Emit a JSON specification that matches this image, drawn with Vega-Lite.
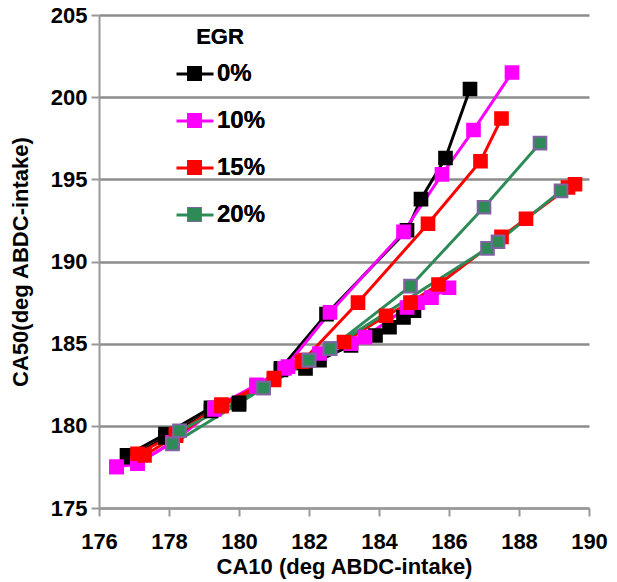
{
  "$schema": "https://vega.github.io/schema/vega-lite/v6.json",
  "width": 490,
  "height": 493,
  "autosize": "none",
  "padding": {"left": 99, "top": 15, "right": 28, "bottom": 74},
  "background": "white",
  "config": {"view": {"stroke": null}, "font": "Liberation Sans"},
  "data": {"values": [
    {"egr": "0%", "branch": "0A", "o": 1, "x": 176.8, "y": 178.2},
    {"egr": "0%", "branch": "0A", "o": 2, "x": 177.9, "y": 179.5},
    {"egr": "0%", "branch": "0A", "o": 3, "x": 179.2, "y": 181.1},
    {"egr": "0%", "branch": "0A", "o": 4, "x": 180.0, "y": 181.3},
    {"egr": "0%", "branch": "0A", "o": 5, "x": 181.2, "y": 183.5},
    {"egr": "0%", "branch": "0A", "o": 6, "x": 182.5, "y": 186.8},
    {"egr": "0%", "branch": "0A", "o": 7, "x": 184.8, "y": 191.9},
    {"egr": "0%", "branch": "0A", "o": 8, "x": 185.2, "y": 193.8},
    {"egr": "0%", "branch": "0A", "o": 9, "x": 185.9, "y": 196.3},
    {"egr": "0%", "branch": "0A", "o": 10, "x": 186.6, "y": 200.5},
    {"egr": "0%", "branch": "0B", "o": 1, "x": 176.9, "y": 178.1},
    {"egr": "0%", "branch": "0B", "o": 2, "x": 177.9, "y": 179.3},
    {"egr": "0%", "branch": "0B", "o": 3, "x": 179.2, "y": 180.9},
    {"egr": "0%", "branch": "0B", "o": 4, "x": 180.0, "y": 181.4},
    {"egr": "0%", "branch": "0B", "o": 5, "x": 181.2, "y": 183.4},
    {"egr": "0%", "branch": "0B", "o": 6, "x": 181.9, "y": 183.5},
    {"egr": "0%", "branch": "0B", "o": 7, "x": 182.3, "y": 184.0},
    {"egr": "0%", "branch": "0B", "o": 8, "x": 183.2, "y": 184.9},
    {"egr": "0%", "branch": "0B", "o": 9, "x": 183.9, "y": 185.5},
    {"egr": "0%", "branch": "0B", "o": 10, "x": 184.3, "y": 186.0},
    {"egr": "0%", "branch": "0B", "o": 11, "x": 184.7, "y": 186.6},
    {"egr": "0%", "branch": "0B", "o": 12, "x": 185.0, "y": 187.0},
    {"egr": "10%", "branch": "10A", "o": 1, "x": 176.5, "y": 177.5},
    {"egr": "10%", "branch": "10A", "o": 2, "x": 177.1, "y": 177.7},
    {"egr": "10%", "branch": "10A", "o": 3, "x": 178.1, "y": 179.0},
    {"egr": "10%", "branch": "10A", "o": 4, "x": 179.3, "y": 181.1},
    {"egr": "10%", "branch": "10A", "o": 5, "x": 180.5, "y": 182.5},
    {"egr": "10%", "branch": "10A", "o": 6, "x": 181.3, "y": 183.5},
    {"egr": "10%", "branch": "10A", "o": 7, "x": 182.6, "y": 186.9},
    {"egr": "10%", "branch": "10A", "o": 8, "x": 184.7, "y": 191.8},
    {"egr": "10%", "branch": "10A", "o": 9, "x": 185.8, "y": 195.3},
    {"egr": "10%", "branch": "10A", "o": 10, "x": 186.7, "y": 198.0},
    {"egr": "10%", "branch": "10A", "o": 11, "x": 187.8, "y": 201.5},
    {"egr": "10%", "branch": "10B", "o": 1, "x": 176.5, "y": 177.5},
    {"egr": "10%", "branch": "10B", "o": 2, "x": 177.1, "y": 177.7},
    {"egr": "10%", "branch": "10B", "o": 3, "x": 178.1, "y": 179.0},
    {"egr": "10%", "branch": "10B", "o": 4, "x": 179.3, "y": 181.0},
    {"egr": "10%", "branch": "10B", "o": 5, "x": 180.5, "y": 182.4},
    {"egr": "10%", "branch": "10B", "o": 6, "x": 181.4, "y": 183.6},
    {"egr": "10%", "branch": "10B", "o": 7, "x": 182.3, "y": 184.4},
    {"egr": "10%", "branch": "10B", "o": 8, "x": 183.2, "y": 185.0},
    {"egr": "10%", "branch": "10B", "o": 9, "x": 183.6, "y": 185.4},
    {"egr": "10%", "branch": "10B", "o": 10, "x": 184.8, "y": 187.2},
    {"egr": "10%", "branch": "10B", "o": 11, "x": 185.1, "y": 187.5},
    {"egr": "10%", "branch": "10B", "o": 12, "x": 185.5, "y": 187.8},
    {"egr": "10%", "branch": "10B", "o": 13, "x": 186.0, "y": 188.4},
    {"egr": "15%", "branch": "15A", "o": 1, "x": 177.1, "y": 178.3},
    {"egr": "15%", "branch": "15A", "o": 2, "x": 178.2, "y": 179.5},
    {"egr": "15%", "branch": "15A", "o": 3, "x": 179.5, "y": 181.3},
    {"egr": "15%", "branch": "15A", "o": 4, "x": 181.0, "y": 182.9},
    {"egr": "15%", "branch": "15A", "o": 5, "x": 181.8, "y": 183.9},
    {"egr": "15%", "branch": "15A", "o": 6, "x": 183.4, "y": 187.5},
    {"egr": "15%", "branch": "15A", "o": 7, "x": 185.4, "y": 192.3},
    {"egr": "15%", "branch": "15A", "o": 8, "x": 186.9, "y": 196.1},
    {"egr": "15%", "branch": "15A", "o": 9, "x": 187.5, "y": 198.7},
    {"egr": "15%", "branch": "15B", "o": 1, "x": 177.3, "y": 178.2},
    {"egr": "15%", "branch": "15B", "o": 2, "x": 178.2, "y": 179.4},
    {"egr": "15%", "branch": "15B", "o": 3, "x": 179.5, "y": 181.2},
    {"egr": "15%", "branch": "15B", "o": 4, "x": 181.0, "y": 182.8},
    {"egr": "15%", "branch": "15B", "o": 5, "x": 181.9, "y": 184.0},
    {"egr": "15%", "branch": "15B", "o": 6, "x": 183.0, "y": 185.1},
    {"egr": "15%", "branch": "15B", "o": 7, "x": 184.2, "y": 186.7},
    {"egr": "15%", "branch": "15B", "o": 8, "x": 184.9, "y": 187.5},
    {"egr": "15%", "branch": "15B", "o": 9, "x": 185.7, "y": 188.6},
    {"egr": "15%", "branch": "15B", "o": 10, "x": 187.5, "y": 191.5},
    {"egr": "15%", "branch": "15B", "o": 11, "x": 188.2, "y": 192.6},
    {"egr": "15%", "branch": "15B", "o": 12, "x": 189.4, "y": 194.5},
    {"egr": "15%", "branch": "15B", "o": 13, "x": 189.6, "y": 194.7},
    {"egr": "20%", "branch": "20A", "o": 1, "x": 178.3, "y": 179.7},
    {"egr": "20%", "branch": "20A", "o": 2, "x": 180.7, "y": 182.3},
    {"egr": "20%", "branch": "20A", "o": 3, "x": 182.0, "y": 184.0},
    {"egr": "20%", "branch": "20A", "o": 4, "x": 182.6, "y": 184.7},
    {"egr": "20%", "branch": "20A", "o": 5, "x": 184.9, "y": 188.5},
    {"egr": "20%", "branch": "20A", "o": 6, "x": 187.0, "y": 193.3},
    {"egr": "20%", "branch": "20A", "o": 7, "x": 188.6, "y": 197.2},
    {"egr": "20%", "branch": "20B", "o": 1, "x": 178.1, "y": 178.9},
    {"egr": "20%", "branch": "20B", "o": 2, "x": 180.7, "y": 182.3},
    {"egr": "20%", "branch": "20B", "o": 3, "x": 182.0, "y": 184.0},
    {"egr": "20%", "branch": "20B", "o": 4, "x": 182.6, "y": 184.7},
    {"egr": "20%", "branch": "20B", "o": 5, "x": 187.1, "y": 190.8},
    {"egr": "20%", "branch": "20B", "o": 6, "x": 187.4, "y": 191.2},
    {"egr": "20%", "branch": "20B", "o": 7, "x": 189.2, "y": 194.3}
  ]},
  "encoding": {
    "x": {"field": "x", "type": "quantitative",
      "scale": {"domain": [176, 190], "nice": false, "zero": false},
      "axis": {"title": "CA10 (deg ABDC-intake)", "values": [176,178,180,182,184,186,188,190],
        "grid": false, "domainColor": "#999999", "domainWidth": 2, "tickColor": "#999999", "tickWidth": 2, "tickSize": 8,
        "labelFontSize": 22, "labelFontWeight": "bold", "labelColor": "#000000", "labelPadding": 15, "labelFlush": false,
        "titleFontSize": 22, "titleFontWeight": "bold", "titleColor": "#000000", "titlePadding": 4}},
    "y": {"field": "y", "type": "quantitative",
      "scale": {"domain": [175, 205], "nice": false, "zero": false},
      "axis": {"title": "CA50(deg ABDC-intake)", "values": [175,180,185,190,195,200,205],
        "grid": true, "gridColor": "#8c8c8c", "gridWidth": 2.5,
        "domainColor": "#999999", "domainWidth": 2, "tickColor": "#999999", "tickWidth": 2, "tickSize": 8,
        "labelFontSize": 22, "labelFontWeight": "bold", "labelColor": "#000000", "labelPadding": 4, "labelFlush": false,
        "titleFontSize": 22, "titleFontWeight": "bold", "titleColor": "#000000", "titlePadding": 18}}
  },
  "layer": [
    {
      "mark": {"type": "line", "strokeWidth": 3},
      "encoding": {
        "color": {"field": "egr", "type": "nominal",
          "scale": {"domain": ["0%", "10%", "15%", "20%"], "range": ["#000000", "#ff00ff", "#ff0000", "#2e8b57"]},
          "legend": {"orient": "none", "legendX": 76, "legendY": 12, "title": "EGR", "titleFontSize": 22, "titleFontWeight": "bold",
            "titleAnchor": "middle", "titleOpacity": 0, "labelOpacity": 0, "labelFontSize": 24, "labelFontWeight": "bold",
            "symbolType": "M-1,0H1", "symbolSize": 1369, "symbolStrokeWidth": 3, "rowPadding": 15, "labelOffset": 3, "titlePadding": 5}},
        "detail": {"field": "branch"},
        "order": {"field": "o", "type": "quantitative"}
      }
    },
    {
      "mark": {"type": "point", "shape": "square", "filled": true, "size": 160, "strokeWidth": 2, "opacity": 1},
      "encoding": {
        "color": {"field": "egr", "type": "nominal",
          "scale": {"domain": ["0%", "10%", "15%", "20%"], "range": ["#000000", "#ff00ff", "#ff0000", "#2e8b57"]},
          "legend": {"orient": "none", "legendX": 76, "legendY": 12, "title": "EGR", "titleFontSize": 22, "titleFontWeight": "bold",
            "titleAnchor": "middle", "titleColor": "#000000", "labelColor": "#000000", "labelFontSize": 24, "labelFontWeight": "bold",
            "symbolType": "M-0.35,-0.35H0.35V0.35H-0.35Z", "symbolSize": 1369, "symbolStrokeWidth": 2, "symbolOpacity": 1,
            "rowPadding": 15, "labelOffset": 3, "titlePadding": 5}},
        "stroke": {"field": "egr", "type": "nominal",
          "scale": {"domain": ["0%", "10%", "15%", "20%"], "range": ["#000000", "#ff00ff", "#ff0000", "#8064a2"]},
          "legend": {"orient": "none", "legendX": 76, "legendY": 12, "title": "EGR", "titleFontSize": 22, "titleFontWeight": "bold",
            "titleAnchor": "middle", "titleColor": "#000000", "labelColor": "#000000", "labelFontSize": 24, "labelFontWeight": "bold",
            "symbolType": "M-0.35,-0.35H0.35V0.35H-0.35Z", "symbolSize": 1369, "symbolStrokeWidth": 2, "symbolOpacity": 1,
            "rowPadding": 15, "labelOffset": 3, "titlePadding": 5}}
      }
    }
  ],
  "resolve": {"legend": {"color": "independent"}}
}
